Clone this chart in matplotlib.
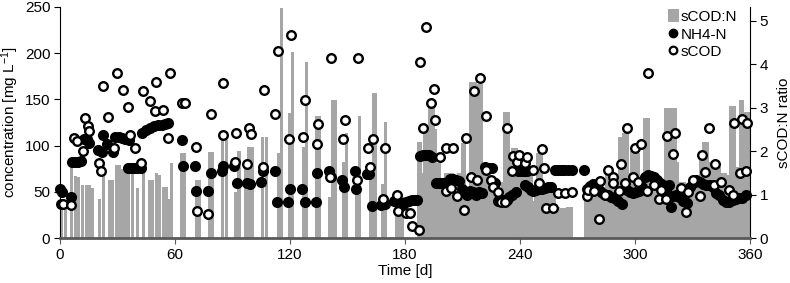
import matplotlib
matplotlib.use("Agg")
import matplotlib.pyplot as plt
from matplotlib.patches import Patch
from matplotlib.lines import Line2D

plt.rcParams['font.family'] = ['Liberation Sans', 'DejaVu Sans']
plt.rcParams['mathtext.fontset'] = 'custom'
plt.rcParams['mathtext.rm'] = 'Liberation Sans'
plt.rcParams['mathtext.it'] = 'Liberation Sans:italic'

# sCOD:N ratio (bars, right axis)
ratio_days = [1, 2.8, 6.2, 8.0, 9.8, 11.8, 13.6, 15.4, 16.8, 20.5, 22.8, 25.8, 27.4,
              29.4, 31.2, 32.8, 34.3, 35.8, 37.8, 40.2, 43.5, 46.5, 48.2, 50.2, 51.8,
              54.0, 55.5, 57.0, 58.4, 63.6, 65.0, 71.0, 72.6, 78.2, 79.6, 85.0, 86.8,
              91.8, 93.4, 97.0, 98.6, 100.2, 105.8, 107.6, 113.8, 115.4, 119.8, 121.4,
              126.8, 128.4, 133.6, 135.2, 140.8, 142.4, 143.8, 147.8, 149.4, 154.6,
              156.2, 161.8, 163.4, 164.8, 168.2, 169.8, 175.4, 177.0, 178.6,
              187, 188, 189, 190, 191, 192, 193, 194, 195, 196, 197, 198, 199, 200,
              201, 202, 203, 204, 205, 206, 207, 208, 209, 210, 211, 212, 213, 214,
              215, 216, 217, 218, 219, 220, 221, 222, 223, 224, 225, 226, 227, 228,
              229, 230, 231, 232, 233, 234, 235, 236, 237, 238, 239, 240, 241, 242,
              243, 244, 245, 246, 247, 248, 249, 250, 251, 252, 253, 254, 255, 256,
              257, 258, 259, 260, 261, 262, 263, 264, 265, 266, 267,
              274, 275, 276, 277, 278, 279, 280, 281, 282, 283, 284, 285, 286, 287,
              288, 289, 290, 291, 292, 293, 294, 295, 296, 297, 298, 299, 300, 301,
              302, 303, 304, 305, 306, 307, 308, 309, 310, 311, 312, 313, 314, 315,
              316, 317, 318, 319, 320, 321, 322, 323, 324, 325, 326, 327, 328, 329,
              330, 331, 332, 333, 334, 335, 336, 337, 338, 339, 340, 341, 342, 343,
              344, 345, 346, 347, 348, 349, 350, 351, 352, 353, 354, 355, 356, 357,
              358, 359]
ratio_vals = [0.87, 0.87, 1.75, 1.42, 1.41, 1.22, 1.22, 1.22, 1.15, 0.9, 1.75, 1.34, 1.34,
              1.68, 1.68, 1.6, 1.6, 1.5, 1.7, 1.15, 1.5, 1.34, 1.34, 1.5, 1.45,
              1.18, 1.18, 0.9, 1.73, 1.96, 1.96, 1.34, 1.34, 1.99, 1.99, 2.26, 2.26,
              1.06, 2.0, 1.72, 2.1, 2.1, 2.33, 2.33, 1.96, 5.3, 2.87, 4.29,
              2.1, 4.06, 2.8, 2.8, 0.95, 3.18, 3.18, 1.76, 2.41, 1.18,
              2.81, 1.64, 3.33, 3.33, 1.24, 2.68, 0.95, 0.95, 0.95,
              2.2, 2.2, 1.49, 2.49, 2.49, 1.9, 2.99, 2.99, 2.99, 2.5, 1.72, 1.72, 1.18, 1.18,
              1.5, 1.5, 1.5, 1.5, 1.5, 0.85, 0.85, 1.5, 1.5, 2.18, 2.18, 1.18, 1.18, 3.6,
              3.6, 3.6, 3.6, 3.55, 3.55, 3.55, 1.64, 1.64, 1.72, 1.72, 1.34, 1.2, 1.0, 0.95,
              1.1, 1.1, 1.3, 2.9, 2.9, 2.9, 1.8, 2.07, 2.07, 2.07, 1.8, 1.8, 1.8, 1.8,
              1.6, 1.6, 1.6, 1.6, 0.85, 1.3, 1.96, 1.96, 1.96, 1.2, 1.2, 1.2, 1.1, 1.1,
              1.1, 1.1, 0.72, 0.72, 0.7, 0.7, 0.7, 0.7, 0.72, 0.72, 0.72,
              0.87, 0.95, 0.95, 0.95, 0.95, 0.95, 0.95, 0.95, 0.95, 0.95, 1.18, 1.57, 1.57, 1.57,
              1.57, 1.1, 1.1, 1.1, 2.33, 2.33, 2.41, 2.41, 2.41, 1.5, 2.0, 2.0, 2.0, 1.95,
              1.95, 1.3, 1.3, 2.76, 2.76, 2.76, 1.18, 1.18, 1.18, 1.18, 0.65, 1.18, 1.18, 1.18,
              3.0, 3.0, 3.0, 3.0, 3.0, 3.0, 1.76, 1.3, 1.3, 1.3, 1.3, 1.18, 1.18, 1.18,
              1.18, 1.3, 1.3, 1.3, 1.8, 1.8, 2.21, 2.21, 2.21, 1.76, 1.76, 1.64, 1.64, 1.64,
              1.64, 1.5, 1.5, 1.5, 1.45, 1.45, 3.04, 3.04, 3.04, 1.64, 1.64, 3.18, 3.18, 2.9,
              2.9, 2.9]

# NH4-N (filled circles, left axis)
nh4_days = [0, 1, 5.6, 6.5, 8, 9.5, 11, 12.6, 14.3, 15.2, 20, 21.8, 22.5, 24.4, 27.8,
            28.9, 30.6, 32.3, 34, 35.3, 35.8, 37, 38.7, 40.4, 42.2, 43, 45, 47, 49, 51,
            53, 55, 56.5, 63.5, 64.3, 70.4, 71, 77.4, 78.6, 84.3, 85.2, 90.8, 92.2, 97.4,
            99, 105, 106, 112, 113.4, 119, 120, 126, 127.8, 133.6, 134.3, 140.5, 141.2,
            147, 148, 153.9, 154.3, 160, 161.4, 162.6, 167.5, 169.5, 174.5, 176, 177.5,
            179, 180.5, 182, 183.5, 185, 186.5, 188, 189.5, 191, 192.5, 194, 196, 197.5,
            199, 200.5, 202, 203.5, 205, 206.5, 208, 209.6, 211, 212.5, 214, 215.5, 217,
            218.5, 220, 221.7, 223.5, 225.2, 225.8, 227, 228.5, 230, 231.5, 233, 234.5,
            236, 238, 239, 240.5, 242, 243.5, 242.6, 244, 245.5, 247, 248.5, 250, 251.5,
            253, 254.5, 256, 258, 260, 261.5, 263, 265, 267, 273.5, 274.8, 276.5, 278,
            279.5, 281, 282.5, 284, 286, 287.5, 289, 291, 293, 295.6, 297.2, 298.8,
            300.4, 302, 303.6, 305.2, 306.8, 308.4, 310, 311.6, 313.2, 314.8, 316.4,
            317.5, 319, 320, 321.5, 323, 325, 327, 328.5, 330.3, 332, 333.8, 335.5,
            337.2, 339, 340.8, 342.5, 344, 345.7, 347.5, 349.2, 351, 352.7, 354.5, 356,
            358]
nh4_vals = [53, 50, 44, 82, 82, 82, 83, 107, 107, 103, 95, 93, 111, 102, 93,
            109, 109, 108, 107, 76, 106, 76, 76, 76, 76, 114, 117, 119, 121, 122,
            122, 123, 124, 106, 78, 78, 51, 51, 70, 72, 78, 78, 60, 60,
            58, 61, 72, 72, 39, 39, 53, 53, 39, 39, 70, 72, 66,
            63, 55, 72, 53, 69, 69, 35, 36, 37, 40, 39, 38,
            38, 39, 40, 41, 41, 41, 89, 90, 90, 90, 88, 60, 59,
            59, 60, 61, 64, 64, 63, 62, 53, 51, 47, 51, 50, 46,
            50, 49, 77, 76, 76, 61, 59, 40, 40, 41, 41, 44,
            46, 50, 72, 72, 73, 73, 57, 55, 52, 51, 52, 53, 53,
            54, 55, 55, 74, 74, 74, 74, 74, 74, 74, 53, 56, 58,
            56, 52, 50, 48, 46, 44, 43, 40, 37, 52, 50, 49,
            50, 51, 55, 66, 68, 67, 66, 63, 59, 57, 52,
            57, 34, 45, 47, 44, 40, 38, 55, 59, 63, 61, 58,
            57, 57, 55, 49, 47, 41, 39, 39, 41, 42, 43, 43,
            47]

# sCOD (open circles, left axis)
scod_days = [0.5, 1.7, 5.7, 7.3, 9, 11.8, 12.9, 14.6, 15.3, 20.4, 21.3, 22.3, 24.9,
             28.4, 29.6, 32.7, 35.7, 36.6, 39.1, 42.3, 43.5, 47, 49.6, 50.1, 53.6,
             56.3, 57.2, 63.5, 65, 71, 71.3, 77.4, 78.6, 84.9, 85.2, 91.3, 91.8, 97.4,
             98.8, 99.5, 105.7, 106.4, 112.2, 113.6, 119.6, 120.5, 126.6, 127.8, 133.9,
             134.8, 140.9, 141.4, 147.5, 148.7, 154.8, 155.3, 160.9, 161.7, 163.1, 168.7,
             169.5, 175.7, 176.5, 180.5, 182.6, 183.5, 187.5, 188, 189.6, 191, 193.4,
             195.1, 195.6, 198.3, 201.2, 201.4, 204, 204.9, 207.3, 210.8, 211.8, 214.3,
             216, 217.4, 219.1, 222.1, 222.3, 224.9, 226.1, 228.7, 230, 232, 233, 235.8,
             236.5, 238.6, 239.6, 242.8, 243.6, 246.6, 249.7, 251.3, 252.4, 253.6, 257,
             260, 263.5, 267, 274.8, 275.5, 278.6, 281, 281.7, 284.4, 286, 288.3, 288.7,
             291.8, 292.7, 294.8, 295.7, 298.8, 300, 301.7, 303, 306, 307, 310, 312.7,
             313.6, 316.2, 316.7, 320, 321, 323.8, 326.8, 327.6, 330.3, 333.7, 335,
             336.7, 338.4, 341.2, 341.9, 344.7, 348.8, 351, 351.6, 355, 355.8, 358, 358.6]
scod_vals = [37, 37, 36, 108, 105, 94, 130, 121, 116, 81, 72, 165, 131,
             97, 179, 160, 142, 111, 97, 81, 159, 148, 137, 169, 139,
             108, 179, 146, 146, 99, 29, 26, 134, 111, 168, 82, 114, 80,
             119, 113, 77, 160, 134, 202, 107, 220, 109, 149, 102,
             123, 66, 195, 107, 128, 63, 195, 97, 77, 107, 42,
             97, 47, 29, 27, 27, 13, 9, 190, 119, 228, 146,
             161, 128, 88, 51, 97, 54, 97, 45, 30, 108, 66,
             159, 63, 173, 74, 132, 63, 55, 50, 39, 39, 119, 72,
             89, 82, 90, 81, 88, 74, 60, 96, 76, 32, 32,
             49, 49, 50, 45, 52, 51, 21, 62, 47, 74, 66, 59,
             51, 80, 59, 119, 66, 97, 61, 102, 51, 179, 57, 42,
             52, 42, 110, 91, 114, 54, 28, 50, 63, 45, 90,
             71, 119, 57, 80, 61, 52, 47, 124, 70, 129, 72, 124]

x_ticks = [0, 60, 120, 180, 240, 300, 360]
y_ticks = [0, 50, 100, 150, 200, 250]
r_ticks = [0, 1, 2, 3, 4, 5]

fig, ax = plt.subplots(figsize=(7.9, 2.83), dpi=100)
fig.subplots_adjust(left=60/790, right=750/790, bottom=45/283, top=276/283)
ax2 = ax.twinx()

bar_color = '#a6a6a6'
ax2.bar(ratio_days, ratio_vals, width=1.6, color=bar_color, linewidth=0)
ax2.set_ylim(0, 5.32)
ax2.set_yticks(r_ticks)

# points above the bars
ax.set_zorder(ax2.get_zorder() + 1)
ax.patch.set_visible(False)

ax.plot(nh4_days, nh4_vals, 'o', color='black', markersize=8, markeredgewidth=0,
        clip_on=False, zorder=3)
ax.plot(scod_days, scod_vals, 'o', markerfacecolor='white', markeredgecolor='black',
        markersize=6.2, markeredgewidth=1.7, clip_on=False, zorder=4)

ax.set_xlim(0, 360)
ax.set_ylim(0, 250)
ax.set_xticks(x_ticks)
ax.set_yticks(y_ticks)

for a in (ax, ax2):
    a.spines['top'].set_visible(False)
    a.tick_params(labelsize=11, length=4, width=0.8, direction='out', pad=3)
ax.spines['right'].set_visible(False)
ax2.spines['left'].set_visible(False)
ax2.spines['bottom'].set_visible(False)
ax.spines['bottom'].set_color('#595959')
ax.spines['bottom'].set_linewidth(2)
ax.tick_params(axis='x', colors='#595959', labelcolor='black')

ax.set_xlabel('Time [d]', fontsize=11, labelpad=2)
ax.set_ylabel('concentration [mg L$^{-1}$]', fontsize=11, labelpad=3)
ax2.set_ylabel('sCOD:N ratio', fontsize=11, labelpad=6)

handles = [Patch(facecolor=bar_color, edgecolor='none'),
           Line2D([], [], marker='o', linestyle='none', color='black', markersize=7,
                  markeredgewidth=0),
           Line2D([], [], marker='o', linestyle='none', markerfacecolor='white',
                  markeredgecolor='black', markersize=5.5, markeredgewidth=1.6)]
ax.legend(handles, ['sCOD:N', 'NH4-N', 'sCOD'], loc='upper right',
          bbox_to_anchor=(0.995, 1.03), frameon=False, fontsize=11,
          handlelength=0.7, handleheight=0.9, handletextpad=0.15, labelspacing=0.2,
          borderaxespad=0.2)

plt.savefig('out.png', dpi=100)
